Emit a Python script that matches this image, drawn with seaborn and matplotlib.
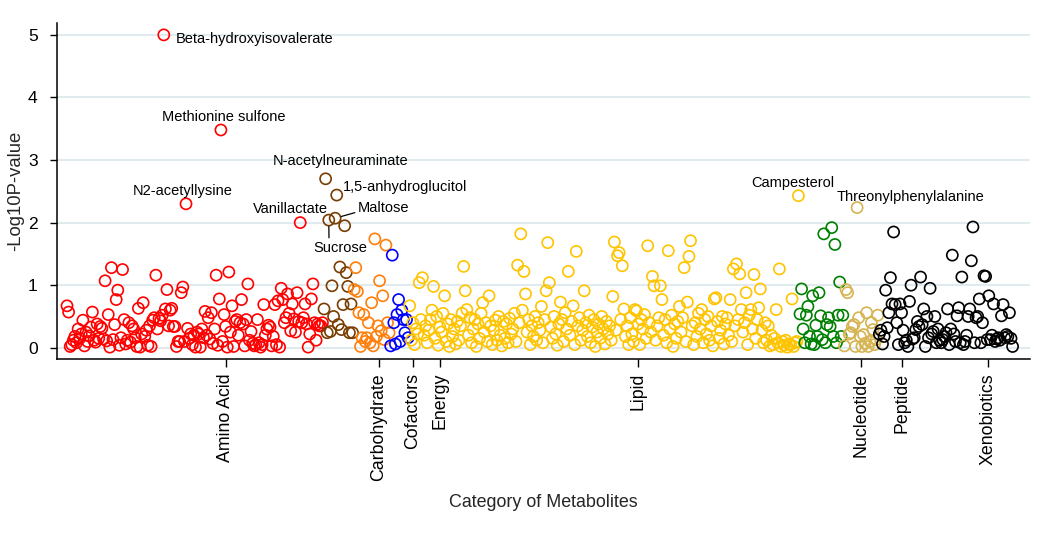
import numpy as np
import pandas as pd
import matplotlib
matplotlib.use("Agg")
import matplotlib.pyplot as plt
import seaborn as sns

# -log10 p-values per metabolite, in plotting order within each category
categories = ["Amino Acid", "Carbohydrate", "Cofactors", "Energy",
              "Lipid", "Nucleotide", "Peptide", "Xenobiotics"]

amino_acid = [
    0.67, 0.57, 0.02, 0.05, 0.12, 0.18, 0.08, 0.30, 0.15, 0.22,
    0.44, 0.03, 0.25, 0.10, 0.19, 0.33, 0.57, 0.12, 0.09, 0.38,
    0.15, 0.34, 0.31, 0.14, 1.07, 0.11, 0.53, 0.01, 1.28, 0.13,
    0.37, 0.77, 0.92, 0.04, 0.16, 1.25, 0.45, 0.06, 0.12, 0.40,
    0.09, 0.35, 0.30, 0.16, 0.02, 0.63, 0.01, 0.22, 0.72, 0.18,
    0.28, 0.04, 0.35, 0.02, 0.44, 0.48, 1.16, 0.30, 0.47, 0.43,
    0.52, 5.00, 0.62, 0.93, 0.35, 0.60, 0.63, 0.34, 0.34, 0.02,
    0.10, 0.10, 0.88, 0.97, 0.10, 2.30, 0.31, 0.15, 0.22, 0.05,
    0.20, 0.01, 0.25, 0.22, 0.01, 0.30, 0.16, 0.58, 0.20, 0.48,
    0.14, 0.56, 0.07, 0.30, 1.16, 0.04, 0.78, 3.48, 0.10, 0.53,
    0.34, 0.01, 1.21, 0.25, 0.67, 0.02, 0.42, 0.45, 0.20, 0.40,
    0.77, 0.38, 0.03, 0.45, 1.02, 0.12, 0.26, 0.07, 0.03, 0.05,
    0.45, 0.08, 0.01, 0.05, 0.69, 0.20, 0.30, 0.36, 0.33, 0.03,
    0.18, 0.69, 0.05, 0.75, 0.01, 0.95, 0.77, 0.40, 0.48, 0.86,
    0.55, 0.27, 0.70, 0.46, 0.25, 0.88, 0.42, 2.00, 0.40, 0.48,
    0.70, 0.38, 0.01, 0.22, 0.78, 1.02, 0.40, 0.12, 0.38, 0.35,
    0.35, 0.40]
carbohydrate = [0.62, 2.70, 0.24, 2.04, 0.26, 0.99, 0.50, 2.07, 2.44, 0.37,
                1.29, 0.29, 0.69, 1.95, 1.20, 0.98, 0.24, 0.70, 0.24]
cofactors = [0.93, 1.28, 0.90, 0.56, 0.02, 0.16, 0.53, 0.10, 0.16, 0.40,
             0.08, 0.72, 0.03, 1.74, 0.18, 0.35, 1.07, 0.27, 0.83, 0.13,
             1.64, 0.40, 0.24]
energy = [0.03, 1.48, 0.40, 0.06, 0.53, 0.77, 0.10, 0.60, 0.45, 0.24, 0.45, 0.16]
lipid = [
    0.67, 0.12, 0.40, 0.05, 0.30, 0.22, 1.04, 0.45, 1.12, 0.20,
    0.35, 0.08, 0.28, 0.45, 0.60, 0.98, 0.15, 0.50, 0.04, 0.33,
    0.25, 0.55, 0.83, 0.10, 0.38, 0.02, 0.45, 0.18, 0.30, 0.06,
    0.42, 0.12, 0.35, 0.55, 1.30, 0.91, 0.61, 0.20, 0.48, 0.08,
    0.30, 0.45, 0.02, 0.38, 0.15, 0.55, 0.72, 0.25, 0.40, 0.10,
    0.83, 0.35, 0.05, 0.28, 0.44, 0.12, 0.50, 0.20, 0.03, 0.42,
    0.15, 0.38, 0.08, 0.47, 0.22, 0.30, 0.55, 0.10, 1.32, 0.40,
    1.82, 0.60, 1.22, 0.86, 0.25, 0.45, 0.05, 0.35, 0.18, 0.50,
    0.12, 0.40, 0.28, 0.66, 0.08, 0.45, 0.91, 1.68, 1.04, 0.33,
    0.15, 0.50, 0.22, 0.04, 0.38, 0.73, 0.45, 0.10, 0.56, 0.30,
    1.22, 0.20, 0.42, 0.67, 0.05, 1.54, 0.35, 0.48, 0.12, 0.28,
    0.91, 0.40, 0.18, 0.52, 0.08, 0.33, 0.45, 0.02, 0.25, 0.38,
    0.15, 0.50, 0.30, 0.06, 0.42, 0.22, 0.35, 0.12, 0.82, 1.69,
    0.28, 1.47, 1.52, 0.45, 1.31, 0.62, 0.18, 0.35, 0.05, 0.48,
    0.22, 0.10, 0.61, 0.59, 0.38, 0.05, 0.45, 0.30, 0.53, 0.15,
    1.63, 0.40, 0.25, 1.14, 0.99, 0.12, 0.35, 0.48, 0.99, 0.77,
    0.20, 0.45, 0.08, 1.55, 0.30, 0.52, 0.02, 0.38, 0.15, 0.42,
    0.66, 0.25, 0.48, 1.28, 0.10, 0.73, 1.46, 1.71, 0.35, 0.05,
    0.40, 0.18, 0.55, 0.30, 0.61, 0.08, 0.45, 0.22, 0.50, 0.12,
    0.35, 0.03, 0.78, 0.80, 0.42, 0.15, 0.28, 0.50, 0.06, 0.38,
    0.48, 0.20, 0.77, 0.10, 1.26, 0.35, 1.34, 0.45, 1.18, 0.61,
    0.25, 0.40, 0.88, 0.05, 0.52, 0.61, 0.30, 1.17, 0.15, 0.45,
    0.64, 0.94, 0.28, 0.08, 0.40, 0.12, 0.35, 0.03, 0.20, 0.05,
    0.15, 0.61, 0.08, 1.26, 0.02, 0.10, 0.04, 0.12, 0.01, 0.06,
    0.05, 0.78, 0.02, 0.08, 0.10, 2.43]
nucleotide = [0.54, 0.94, 0.30, 0.08, 0.52, 0.66, 0.18, 0.06, 0.83, 0.05,
              0.36, 0.18, 0.88, 0.51, 0.13, 1.82, 0.08, 0.37, 0.48, 0.34,
              1.92, 0.18, 1.65, 0.08, 0.52, 1.05, 0.18, 0.52]
peptide = [0.03, 0.93, 0.88, 0.22, 0.24, 0.34, 0.37, 0.02, 2.24, 0.48,
           0.18, 0.02, 0.21, 0.07, 0.56, 0.02, 0.10, 0.40, 0.29, 0.05,
           0.13, 0.52]
xenobiotics = [
    0.22, 0.28, 0.06, 0.18, 0.92, 0.32, 0.56, 1.12, 0.70, 1.85,
    0.69, 0.40, 0.05, 0.70, 0.56, 0.28, 0.08, 0.12, 0.02, 0.74,
    1.00, 0.14, 0.16, 0.29, 0.42, 0.34, 1.13, 0.37, 0.62, 0.02,
    0.50, 0.16, 0.95, 0.22, 0.26, 0.50, 0.08, 0.30, 0.12, 0.08,
    0.13, 0.18, 0.24, 0.62, 0.05, 0.30, 1.48, 0.22, 0.10, 0.51,
    0.64, 0.08, 1.13, 0.05, 0.10, 0.20, 0.50, 0.62, 1.39, 1.93,
    0.08, 0.48, 0.50, 0.78, 0.08, 0.40, 1.15, 1.14, 0.13, 0.83,
    0.13, 0.20, 0.70, 0.10, 0.14, 0.16, 0.12, 0.51, 0.69, 0.16,
    0.21, 0.18, 0.56, 0.15, 0.02]

# category label positions along the metabolite order
tick_pos = [100.2, 196.6, 218.0, 235.0, 359.8, 500.3, 526.1, 580.3]

# labelled metabolites: (name, category, position within category)
highlights = [
    ("Beta-hydroxyisovalerate", "Amino Acid", 61),
    ("Methionine sulfone", "Amino Acid", 97),
    ("N2-acetyllysine", "Amino Acid", 75),
    ("Vanillactate", "Amino Acid", 147),
    ("N-acetylneuraminate", "Carbohydrate", 1),
    ("1,5-anhydroglucitol", "Carbohydrate", 8),
    ("Maltose", "Carbohydrate", 7),
    ("Sucrose", "Carbohydrate", 3),
    ("Campesterol", "Lipid", 245),
    ("Threonylphenylalanine", "Peptide", 8),
]

palette = {"Amino Acid": "#ff0000", "Carbohydrate": "#7a3c00", "Cofactors": "#ff7f0a",
           "Energy": "#0000ff", "Lipid": "#ffc400", "Nucleotide": "#008000",
           "Peptide": "#d6b452", "Xenobiotics": "#000000"}

# label placement: offset in pixels, ha, va, leader line
label_style = {
    "Beta-hydroxyisovalerate": ((12, -4), "left", "center", None),
    "Methionine sulfone": ((3, 13), "center", "center", None),
    "N2-acetyllysine": ((-3, 13), "center", "center", None),
    "Vanillactate": ((-10, 14), "center", "center", None),
    "N-acetylneuraminate": ((15, 18), "center", "center", None),
    "1,5-anhydroglucitol": ((6, 8), "left", "center", None),
    "Maltose": ((23, 10), "left", "center", (0, 0.25)),
    "Sucrose": ((11, -28), "center", "center", (0.3, 0.9)),
    "Campesterol": ((-6, 13), "center", "center", None),
    "Threonylphenylalanine": ((-20, 11), "left", "center", None),
}

values = [amino_acid, carbohydrate, cofactors, energy, lipid, nucleotide, peptide, xenobiotics]
df = pd.DataFrame({
    "category": np.repeat(categories, [len(v) for v in values]),
    "neglogp": np.concatenate(values),
})
df["order"] = np.arange(len(df))
starts = dict(zip(categories, np.cumsum([0] + [len(v) for v in values[:-1]])))

sns.set_theme(style="ticks")
plt.rcParams["font.family"] = ["Liberation Sans", "DejaVu Sans"]

fig = plt.figure(figsize=(10.5, 5.41), dpi=100)
ax = fig.add_axes([0.0543, 0.3364, 0.9267, 0.6211])

sns.scatterplot(data=df, x="order", y="neglogp", hue="category", palette=palette,
                s=64, linewidth=1.2, legend=False, ax=ax)
pts = ax.collections[0]
pts.set_edgecolors(pts.get_facecolors())
pts.set_facecolors("none")

for name, cat, k in highlights:
    row = df.iloc[starts[cat] + k]
    (dx, dy), ha, va, rel = label_style[name]
    arrow = None
    if rel is not None:
        arrow = dict(arrowstyle="-", color="black", lw=0.9, relpos=rel, shrinkA=0, shrinkB=4.5)
    ax.annotate(name, xy=(row["order"], row["neglogp"]), xytext=(dx, dy),
                textcoords="offset pixels", ha=ha, va=va, fontsize=10.5,
                color="black", arrowprops=arrow)

ax.set_xlim(-6.3, len(df) + 10)
ax.set_ylim(-0.18, 5.19)
ax.set_yticks(range(6))
ax.set_xticks(tick_pos)
ax.set_xticklabels(categories, rotation=90)
ax.yaxis.grid(True, color="#e1eaef", lw=1.5)
ax.set_axisbelow(True)
sns.despine(ax=ax)
for side in ["left", "bottom"]:
    ax.spines[side].set_color("black")
    ax.spines[side].set_linewidth(1.1)

ax.tick_params(axis="y", length=5, width=1, pad=9, labelsize=12.6, colors="black")
ax.tick_params(axis="x", length=6, width=1, pad=4, labelsize=12.8, colors="black")
ax.set_ylabel("-Log10P-value", fontsize=13.3, labelpad=3)
ax.set_xlabel("Category of Metabolites", fontsize=12.9, labelpad=10)

fig.savefig("out.png", dpi=100, facecolor="white")
